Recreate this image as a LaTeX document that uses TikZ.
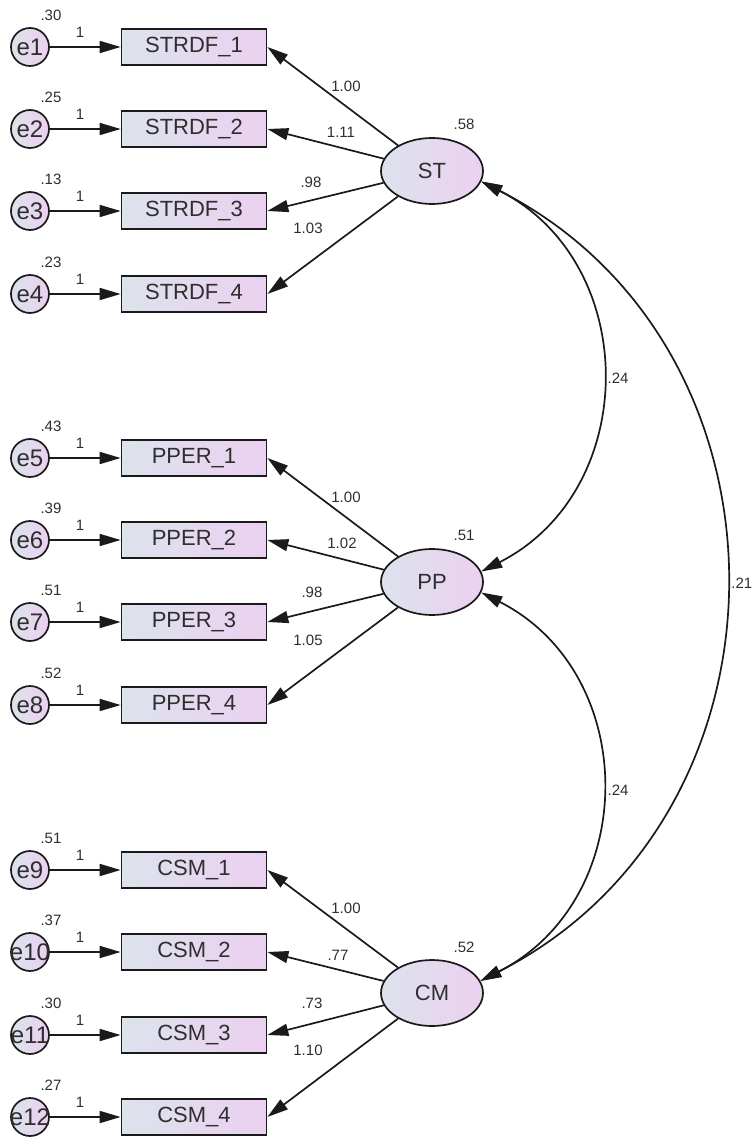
\documentclass[tikz,border=0pt]{standalone}
\usepackage{fontspec}
\setmainfont{Liberation Sans}
\usetikzlibrary{arrows.meta,shapes.geometric}
\definecolor{fillL}{HTML}{DCE3EC}
\definecolor{fillR}{HTML}{ECD0F0}
\definecolor{ink}{HTML}{1A1A1A}
\definecolor{txt}{HTML}{2E2E2E}
\begin{document}
\begin{tikzpicture}[x=1pt,y=1pt,
  obs/.style={draw=ink,line width=1.7pt,left color=fillL,right color=fillR,minimum width=145pt,minimum height=36pt,inner sep=0pt,font=\fontsize{22}{26}\selectfont,text=txt},
  err/.style={circle,draw=ink,line width=1.7pt,left color=fillL,right color=fillR,minimum size=38pt,inner sep=0pt,font=\fontsize{24}{28}\selectfont,text=txt},
  lat/.style={ellipse,draw=ink,line width=1.7pt,left color=fillL,right color=fillR,minimum width=102pt,minimum height=66pt,inner sep=0pt,font=\fontsize{22}{26}\selectfont,text=txt},
  lbl/.style={font=\fontsize{15}{17}\selectfont,text=txt,inner sep=0pt},
  arr/.style={draw=ink,line width=1.7pt,-{Triangle[length=21pt,width=12pt]}},
  cov/.style={draw=ink,line width=1.7pt,{Triangle[length=21pt,width=12pt]}-{Triangle[length=21pt,width=12pt]}}
]
\useasboundingbox (0,0) rectangle (753,-1139);

% indicators with error terms
\foreach \i/\y/\nm/\v in {1/47/STRDF\_1/.30, 2/129/STRDF\_2/.25, 3/211/STRDF\_3/.13, 4/294/STRDF\_4/.23,
  5/458/PPER\_1/.43, 6/540/PPER\_2/.39, 7/622/PPER\_3/.51, 8/705/PPER\_4/.52,
  9/870/CSM\_1/.51, 10/952/CSM\_2/.37, 11/1035/CSM\_3/.30, 12/1117/CSM\_4/.27}{
  \node[err] (e\i) at (30,-\y) {\makebox[0pt]{e\i}};
  \node[obs] (b\i) at (194,-\y) {\nm};
  \draw[arr] (e\i) -- (b\i);
  \node[lbl] (one\i) at (80,-\y+15) {1};
  \node[lbl] (var\i) at (51,-\y+32) {\v};
}

% latent variables
\node[lat] (ST) at (432,-171) {ST};
\node[lat] (PP) at (432,-582) {PP};
\node[lat] (CM) at (432,-993) {CM};

\node[lbl] (vST) at (464,-124) {.58};
\node[lbl] (vPP) at (464,-535) {.51};
\node[lbl] (vCM) at (464,-947) {.52};

% loadings
\draw[arr] (ST) -- (b1.east);
\draw[arr] (ST) -- (b2.east);
\draw[arr] (ST) -- (b3.east);
\draw[arr] (ST) -- (b4.east);
\node[lbl] (l1) at (346,-86) {1.00};
\node[lbl] (l2) at (341,-132) {1.11};
\node[lbl] (l3) at (311,-182) {.98};
\node[lbl] (l4) at (308,-228) {1.03};

\draw[arr] (PP) -- (b5.east);
\draw[arr] (PP) -- (b6.east);
\draw[arr] (PP) -- (b7.east);
\draw[arr] (PP) -- (b8.east);
\node[lbl] (l5) at (346,-497) {1.00};
\node[lbl] (l6) at (342,-543) {1.02};
\node[lbl] (l7) at (312,-592) {.98};
\node[lbl] (l8) at (308,-640) {1.05};

\draw[arr] (CM) -- (b9.east);
\draw[arr] (CM) -- (b10.east);
\draw[arr] (CM) -- (b11.east);
\draw[arr] (CM) -- (b12.east);
\node[lbl] (l9) at (346,-908) {1.00};
\node[lbl] (l10) at (338,-955) {.77};
\node[lbl] (l11) at (312,-1003) {.73};
\node[lbl] (l12) at (308,-1050) {1.10};

% covariances
\draw[cov] (ST.-12) to[out=-27,in=27,looseness=1.18] (PP.12);
\draw[cov] (ST.-12) to[out=-27,in=27,looseness=1.17] (CM.14);
\draw[cov] (PP.-12) to[out=-27,in=27,looseness=1.18] (CM.14);
\node[lbl] (c1) at (618,-378) {.24};
\node[lbl,anchor=east] (c2) at (752.5,-583) {.21};
\node[lbl] (c3) at (618,-790) {.24};
\end{tikzpicture}
\end{document}
